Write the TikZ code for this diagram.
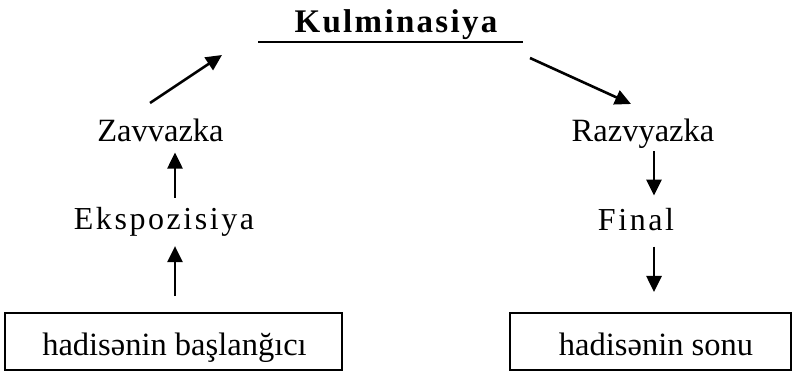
\documentclass[tikz,border=0pt]{standalone}
\usepackage{fontspec}
\setmainfont{Liberation Serif}
\newfontfamily\spacedfont[LetterSpace=8]{Liberation Serif}
\newfontfamily\titlefont[LetterSpace=7]{Liberation Serif}
\usetikzlibrary{arrows.meta,calc}
\begin{document}
\begin{tikzpicture}[x=1pt,y=-1pt,
  txt/.style={inner sep=0pt, anchor=base, font=\fontsize{32.5}{38}\selectfont},
  spc/.style={inner sep=0pt, anchor=base, font=\spacedfont\fontsize{32}{38}\selectfont},
  boxstyle/.style={draw, line width=2pt, inner sep=0pt},
  arr/.style={line width=2.6pt, -{Triangle[length=16pt,width=15pt]}}]
\useasboundingbox (0,0) rectangle (792,371);
% title
\node[inner sep=0pt, anchor=base, font=\titlefont\bfseries\fontsize{33}{40}\selectfont] (kul) at (396,33) {Kulminasiya};
\draw[line width=2pt] (258,42.5) -- (523,42.5);
% left column
\node[txt] (zav) at (160.5,142) {Zavvazka};
\node[spc] (eks) at (164,230) {Ekspozisiya};
\node[boxstyle, minimum width=337pt, minimum height=57pt] (lbox) at (173.5,341.5) {};
\node[txt] (ltxt) at (174.5,355.5) {hadisənin başlanğıcı};
% right column
\node[txt] (raz) at (643,142) {Razvyazka};
\node[spc] (fin) at (636,231) {Final};
\node[boxstyle, minimum width=281pt, minimum height=57pt] (rbox) at (650.5,341.5) {};
\node[txt] (rtxt) at (656,355.5) {hadisənin sonu};
% connectors
\coordinate (lx) at (175,0);
\coordinate (rx) at (654,0);
\coordinate (a1s) at (150,103);
\coordinate (a1e) at (222,55);
\coordinate (a2s) at (530,58);
\coordinate (a2e) at (631,104);
\draw[arr] (a1s) -- (a1e);
\draw[arr] (a2s) -- (a2e);
\draw[arr] ($(lbox.north -| lx)+(0,-16)$) -- ($(eks.south -| lx)+(0,9)$);
\draw[arr] ($(eks.north -| lx)+(0,-10)$) -- ($(zav.south -| lx)+(0,10)$);
\draw[arr] ($(raz.south -| rx)+(0,2)$) -- ($(fin.north -| rx)+(0,-13)$);
\draw[arr] ($(fin.south -| rx)+(0,15)$) -- ($(rbox.north -| rx)+(0,-20)$);
\end{tikzpicture}
\end{document}
